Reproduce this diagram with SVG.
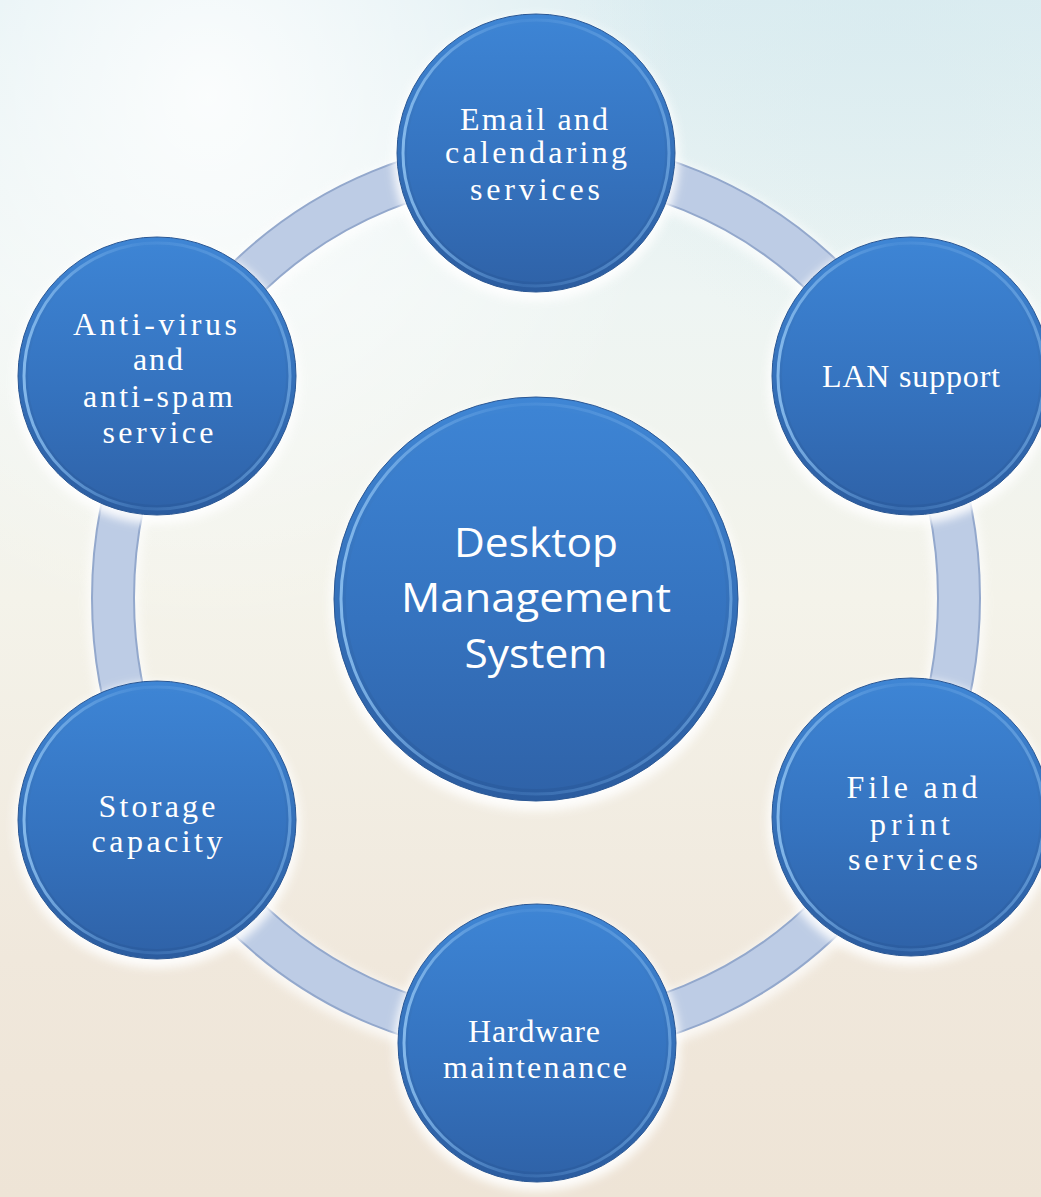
<svg xmlns="http://www.w3.org/2000/svg" width="1041" height="1197" viewBox="0 0 1041 1197">
  <defs>
    <linearGradient id="bg" x1="0" y1="0" x2="0" y2="1">
      <stop offset="0" stop-color="#dcedf1"/>
      <stop offset="0.25" stop-color="#eef5f3"/>
      <stop offset="0.5" stop-color="#f4f3ea"/>
      <stop offset="0.8" stop-color="#f0e8dc"/>
      <stop offset="1" stop-color="#eee4d6"/>
    </linearGradient>
    <radialGradient id="bgGlow" cx="0.2" cy="0.08" r="0.45">
      <stop offset="0" stop-color="#ffffff" stop-opacity="0.85"/>
      <stop offset="1" stop-color="#ffffff" stop-opacity="0"/>
    </radialGradient>
    <radialGradient id="bgBlue" cx="0.85" cy="0.0" r="0.3">
      <stop offset="0" stop-color="#d6eaef" stop-opacity="0.5"/>
      <stop offset="1" stop-color="#d6eaef" stop-opacity="0"/>
    </radialGradient>
    <linearGradient id="rimFill" x1="0" y1="0" x2="0" y2="1">
      <stop offset="0" stop-color="#3f86d5"/>
      <stop offset="1" stop-color="#2b5c9f"/>
    </linearGradient>
    <linearGradient id="faceFill" x1="0" y1="0" x2="0" y2="1">
      <stop offset="0" stop-color="#3d84d4"/>
      <stop offset="0.55" stop-color="#3573bf"/>
      <stop offset="1" stop-color="#2f63a9"/>
    </linearGradient>
    <linearGradient id="rimLight" x1="0" y1="0" x2="1" y2="0">
      <stop offset="0" stop-color="#8cc0f0" stop-opacity="0.9"/>
      <stop offset="0.45" stop-color="#6aa6e6" stop-opacity="0.2"/>
      <stop offset="1" stop-color="#7fb6ec" stop-opacity="0.6"/>
    </linearGradient>
    <filter id="halo" x="-20%" y="-20%" width="140%" height="140%">
      <feGaussianBlur stdDeviation="5"/>
    </filter>
    <style>
      .glow { fill: #ffffff; opacity: 0.9; filter: url(#halo); }
      .rim { fill: url(#rimFill); stroke: #2a5794; stroke-width: 1; }
      .edge { fill: none; stroke: url(#rimLight); stroke-width: 3; }
      .face { fill: url(#faceFill); }
      .lbl { font-family: "Liberation Serif", "Times New Roman", serif; font-size: 32px; fill: #ffffff; text-anchor: middle; }
      .hub { font-family: "Open Sans", "Liberation Sans", sans-serif; font-size: 41px; fill: #ffffff; text-anchor: middle; }
      .ringGlow { fill: none; stroke: #ffffff; stroke-width: 52; opacity: 0.7; filter: url(#halo); }
      .ringEdge { fill: none; stroke: #93a8cc; stroke-width: 44; }
      .ringBand { fill: none; stroke: #bdcce5; stroke-width: 40; }
    </style>
  </defs>

  <!-- backdrop -->
  <rect width="1041" height="1197" fill="url(#bg)"/>
  <rect width="1041" height="1197" fill="url(#bgGlow)"/>
  <rect width="1041" height="1197" fill="url(#bgBlue)"/>

  <!-- connecting ring -->
  <g id="connectors">
    <ellipse class="ringGlow" cx="536" cy="602" rx="423" ry="438"/>
    <ellipse class="ringEdge" cx="536" cy="598" rx="423" ry="438"/>
    <ellipse class="ringBand" cx="536" cy="598" rx="423" ry="438"/>
  </g>

  <!-- hub -->
  <g id="node-hub" transform="translate(536,599)">
    <circle class="glow" cx="0" cy="6" r="206"/>
    <circle class="rim" r="202"/>
    <circle class="edge" r="195"/>
    <circle class="face" r="190"/>
    <text class="hub" x="0" y="-42" textLength="164" lengthAdjust="spacingAndGlyphs">Desktop</text>
    <text class="hub" x="0" y="13" textLength="270" lengthAdjust="spacingAndGlyphs">Management</text>
    <text class="hub" x="0" y="69" textLength="143" lengthAdjust="spacingAndGlyphs">System</text>
  </g>

  <!-- satellites -->
  <g id="node-email" transform="translate(536,153)">
    <circle class="glow" cx="0" cy="5" r="143"/>
    <circle class="rim" r="139"/>
    <circle class="edge" r="133"/>
    <circle class="face" r="129"/>
    <text class="lbl" x="-2" y="-23" textLength="148" lengthAdjust="spacing">Email and</text>
    <text class="lbl" x="0" y="10" textLength="182" lengthAdjust="spacing">calendaring</text>
    <text class="lbl" x="-1" y="47" textLength="130" lengthAdjust="spacing">services</text>
  </g>

  <g id="node-lan" transform="translate(911,376)">
    <circle class="glow" cx="0" cy="5" r="143"/>
    <circle class="rim" r="139"/>
    <circle class="edge" r="133"/>
    <circle class="face" r="129"/>
    <text class="lbl" x="0" y="11" textLength="178" lengthAdjust="spacing">LAN support</text>
  </g>

  <g id="node-fileprint" transform="translate(911,817)">
    <circle class="glow" cx="0" cy="5" r="143"/>
    <circle class="rim" r="139"/>
    <circle class="edge" r="133"/>
    <circle class="face" r="129"/>
    <text class="lbl" x="1" y="-19" textLength="131" lengthAdjust="spacing">File and</text>
    <text class="lbl" x="-1" y="18" textLength="80" lengthAdjust="spacing">print</text>
    <text class="lbl" x="2" y="53" textLength="130" lengthAdjust="spacing">services</text>
  </g>

  <g id="node-hardware" transform="translate(537,1043)">
    <circle class="glow" cx="0" cy="5" r="143"/>
    <circle class="rim" r="139"/>
    <circle class="edge" r="133"/>
    <circle class="face" r="129"/>
    <text class="lbl" x="-3" y="-1" textLength="132" lengthAdjust="spacing">Hardware</text>
    <text class="lbl" x="-2" y="35" textLength="184" lengthAdjust="spacing">maintenance</text>
  </g>

  <g id="node-storage" transform="translate(157,820)">
    <circle class="glow" cx="0" cy="5" r="143"/>
    <circle class="rim" r="139"/>
    <circle class="edge" r="133"/>
    <circle class="face" r="129"/>
    <text class="lbl" x="0" y="-3" textLength="117" lengthAdjust="spacing">Storage</text>
    <text class="lbl" x="0" y="32" textLength="131" lengthAdjust="spacing">capacity</text>
  </g>

  <g id="node-antivirus" transform="translate(157,376)">
    <circle class="glow" cx="0" cy="5" r="143"/>
    <circle class="rim" r="139"/>
    <circle class="edge" r="133"/>
    <circle class="face" r="129"/>
    <text class="lbl" x="-2" y="-41" textLength="164" lengthAdjust="spacing">Anti-virus</text>
    <text class="lbl" x="1" y="-6" textLength="50" lengthAdjust="spacing">and</text>
    <text class="lbl" x="1" y="31" textLength="150" lengthAdjust="spacing">anti-spam</text>
    <text class="lbl" x="1" y="67" textLength="111" lengthAdjust="spacing">service</text>
  </g>
</svg>
